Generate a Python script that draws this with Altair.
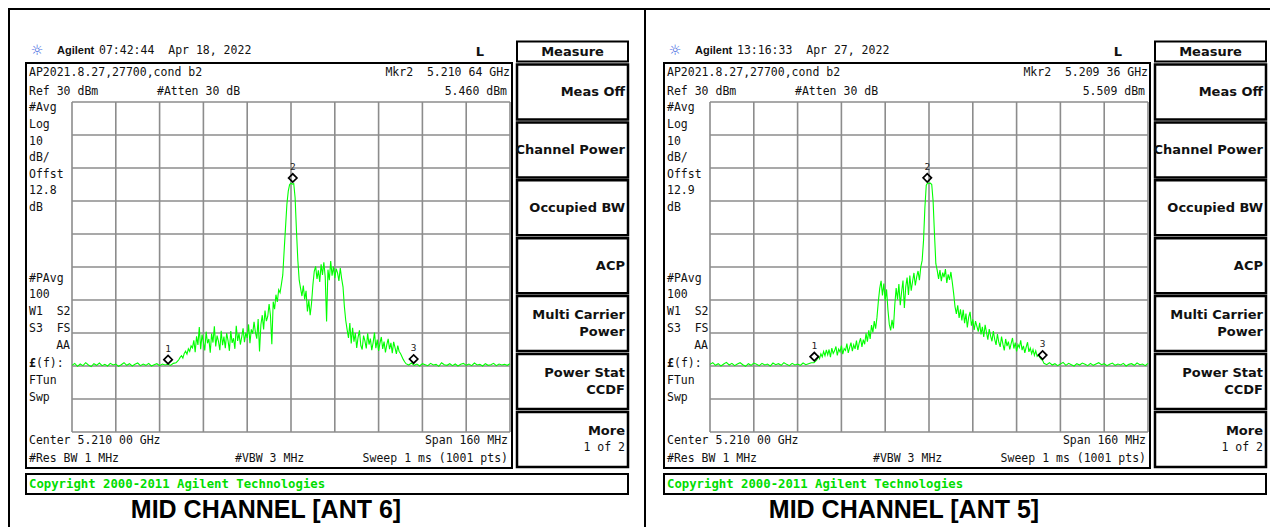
import altair as alt
import pandas as pd

# ---------------- data read from the two analyzer screens ----------------
# sweep grid: offset from centre 5.210 GHz (MHz), 160 MHz span
FREQ_MHZ = list(range(-80, -42)) + [i / 2 for i in range(-84, 85)] + list(range(43, 81))

ANT6_FLOOR_LO = [
    -49.8, -49.2, -50.1, -49.4, -49.9, -49.0, -49.7, -50.2, -49.3, -49.8,
    -49.1, -49.9, -49.5, -50.0, -49.2, -49.7, -49.4, -50.1, -49.6, -49.0,
    -49.8, -49.3, -50.0, -49.5, -49.1, -49.9, -49.4, -49.8, -49.2, -50.0,
    -49.6, -49.3, -49.9, -49.4, -49.7, -49.5, -49.8, -49.2,
]
ANT6_SIGNAL = [
    -49.0, -48.6, -48.1, -47.4, -46.9, -47.6, -46.2, -45.5, -46.4, -44.8,
    -45.6, -43.9, -44.5, -42.2, -45.8, -41.0, -43.6, -38.2, -44.9, -40.5,
    -42.7, -45.3, -39.6, -43.1, -41.8, -46.0, -40.2, -42.9, -38.0, -44.1,
    -40.8, -42.5, -45.2, -39.3, -43.7, -41.1, -44.6, -40.0, -42.3, -45.4,
    -39.4, -43.0, -41.6, -44.8, -37.8, -42.4, -40.1, -43.5, -41.2, -38.6,
    -42.8, -39.9, -41.5, -37.4, -43.1, -38.9, -40.2, -36.6, -39.8, -41.7,
    -35.8, -45.6, -37.5, -34.6, -38.9, -33.2, -36.4, -35.0, -31.2, -34.7,
    -43.4, -30.5, -32.8, -28.4, -30.6, -26.9, -27.8, -25.2, -22.4, -15.0,
    -8.0, -1.0, 3.0, 5.0, 5.4, 5.1, 5.3, 1.0, -9.0, -18.0,
    -24.0, -26.5, -28.8, -25.6, -29.8, -27.2, -33.5, -30.1, -34.6, -31.0,
    -25.4, -21.3, -19.8, -23.6, -21.0, -24.5, -19.2, -22.4, -18.6, -23.0,
    -36.5, -20.8, -24.0, -18.2, -22.6, -19.9, -23.4, -20.5, -21.8, -24.2,
    -20.3, -23.5, -26.0, -32.0, -36.2, -39.0, -41.5, -37.0, -43.2, -38.4,
    -42.6, -40.0, -44.5, -41.3, -39.2, -43.8, -45.0, -40.8, -42.4, -44.7,
    -40.1, -43.5, -41.7, -45.2, -42.9, -39.9, -44.6, -42.0, -45.4, -43.1,
    -41.2, -44.8, -42.6, -45.9, -43.5, -41.8, -44.9, -43.0, -46.1, -42.7,
    -44.4, -46.3, -43.8, -45.6, -46.2, -47.1, -48.0, -48.7, -49.3,
]
ANT6_FLOOR_HI = [
    -49.7, -49.1, -49.8, -49.4, -50.0, -49.3, -49.6, -49.9, -49.2, -49.7,
    -49.5, -50.1, -49.0, -49.6, -49.8, -49.3, -49.9, -49.4, -50.0, -49.5,
    -49.2, -49.8, -49.4, -49.9, -49.1, -49.7, -49.5, -50.0, -49.3, -49.8,
    -49.6, -49.2, -49.9, -49.4, -49.7, -49.5, -49.8, -49.3,
]

ANT5_FLOOR_LO = [
    -49.5, -49.0, -49.8, -49.3, -50.0, -49.4, -48.9, -49.7, -49.2, -49.9,
    -49.4, -49.0, -49.6, -50.1, -49.3, -49.8, -49.1, -49.5, -49.9, -49.2,
    -49.7, -49.4, -50.0, -49.1, -49.6, -49.3, -49.8, -49.0, -49.5, -49.9,
    -49.2, -49.7, -49.4, -49.8, -49.1, -49.6, -49.3, -49.0,
]
ANT5_SIGNAL = [
    -49.0, -48.6, -48.2, -47.0, -47.8, -46.3, -47.2, -45.6, -46.9, -45.1,
    -46.6, -45.0, -47.3, -44.6, -46.2, -45.4, -44.1, -46.8, -44.9, -45.7,
    -43.8, -46.4, -44.7, -45.3, -43.2, -46.0, -44.4, -42.9, -45.5, -43.6,
    -44.8, -42.3, -45.1, -43.0, -41.6, -44.2, -42.0, -43.4, -40.1, -42.6,
    -39.2, -41.8, -37.6, -39.8, -36.4, -38.7, -35.2, -30.4, -26.5, -24.2,
    -28.6, -25.0, -30.2, -26.8, -33.0, -37.4, -39.2, -36.0, -38.6, -31.5,
    -26.4, -29.8, -25.2, -31.6, -27.5, -24.1, -32.4, -26.0, -23.2, -28.5,
    -22.6, -27.2, -24.4, -21.8, -25.6, -23.0, -21.2, -24.0, -20.0, -18.0,
    -12.0, -2.0, 4.8, 5.5, 5.3, 5.4, 5.0, 0.0, -10.0, -19.0,
    -21.0, -23.6, -20.9, -24.3, -21.7, -23.1, -20.6, -24.8, -22.2, -23.9,
    -21.5, -24.6, -28.0, -32.0, -34.2, -31.6, -35.4, -32.8, -36.2, -33.0,
    -37.0, -34.1, -38.3, -35.2, -33.6, -37.8, -35.9, -39.1, -36.4, -38.0,
    -39.6, -36.9, -40.4, -38.1, -41.2, -37.5, -39.8, -42.0, -38.8, -40.9,
    -42.5, -39.4, -41.9, -43.6, -40.3, -42.8, -44.2, -41.1, -43.4, -45.3,
    -41.8, -44.0, -42.6, -45.0, -43.2, -41.5, -44.7, -42.9, -45.6, -43.5,
    -44.4, -42.2, -45.2, -43.9, -46.0, -44.3, -42.8, -45.7, -44.6, -46.3,
    -45.0, -46.8, -45.4, -47.1, -46.6, -47.4, -48.0, -48.3, -49.2,
]
ANT5_FLOOR_HI = [
    -49.6, -49.0, -49.7, -49.3, -49.9, -49.4, -48.9, -49.8, -49.2, -49.6,
    -50.0, -49.3, -49.7, -49.1, -49.5, -49.9, -49.2, -49.8, -49.4, -49.0,
    -49.6, -49.3, -49.9, -49.5, -49.1, -49.8, -49.4, -49.7, -49.2, -50.0,
    -49.5, -49.3, -49.8, -49.1, -49.6, -49.4, -49.9, -49.2,
]

ANT6_DBM = ANT6_FLOOR_LO + ANT6_SIGNAL + ANT6_FLOOR_HI
ANT5_DBM = ANT5_FLOOR_LO + ANT5_SIGNAL + ANT5_FLOOR_HI

GRID_FREQ_MHZ = [-80, -64, -48, -32, -16, 0, 16, 32, 48, 64, 80]
GRID_DBM = [30, 20, 10, 0, -10, -20, -30, -40, -50, -60, -70]

ANT6_MKR_MHZ = [-44.9, 0.64, 44.8]
ANT6_MKR_DBM = [-49.6, 5.46, -49.4]
ANT5_MKR_MHZ = [-41.9, -0.64, 41.5]
ANT5_MKR_DBM = [-48.7, 5.509, -48.2]
MKR_NAMES = ["1", "2", "3"]

SOFTKEYS = [["Meas Off"], ["Channel Power"], ["Occupied BW"], ["ACP"],
            ["Multi Carrier", "Power"], ["Power Stat", "CCDF"], ["More", "1 of 2"]]

NB = "\u00a0"

# ---------------- drawing helpers ----------------
OX, OY = 8, 8
MONO = "DejaVu Sans Mono"
SANS = "DejaVu Sans"
ONE = pd.DataFrame({"k": [0]})
GRIDC = "#8c8c8c"


def txt(s, x, y, size=11.5, font=MONO, weight="normal", align="left",
        color="#111111", baseline="middle"):
    return alt.Chart(ONE).mark_text(
        text=s, fontSize=size, font=font, fontWeight=weight, align=align,
        baseline=baseline, color=color
    ).encode(x=alt.value(x - OX), y=alt.value(y - OY))


def box(x1, y1, x2, y2, sw=2.0, color="black"):
    return alt.Chart(ONE).mark_rect(filled=False, color=color, strokeWidth=sw).encode(
        x=alt.value(x1 - OX), x2=alt.value(x2 - OX),
        y=alt.value(y1 - OY), y2=alt.value(y2 - OY))


def hrule(x1, x2, y, sw=2.0):
    return alt.Chart(ONE).mark_rule(color="black", strokeWidth=sw).encode(
        x=alt.value(x1 - OX), x2=alt.value(x2 - OX), y=alt.value(y - OY))


def vrule(x, y1, y2, sw=2.0):
    return alt.Chart(ONE).mark_rule(color="black", strokeWidth=sw).encode(
        x=alt.value(x - OX), y=alt.value(y1 - OY), y2=alt.value(y2 - OY))


def panel(dx, time_str, mkr_str, mval_str, offst, caption, vals, mf, mp):
    X = lambda x: x + dx
    L = []
    # header line
    L.append(txt("☼", X(37), 51, size=14, font=SANS, color="#3a5fe0", align="center"))
    L.append(txt("Agilent", X(57), 51, size=11, font="Liberation Sans", weight="bold"))
    L.append(txt(time_str, X(99), 51))
    L.append(txt("L", X(480), 51.5, size=13, font=SANS, weight="bold", align="center"))
    L.append(box(X(517), 41.5, X(628), 61.5))
    L.append(txt("Measure", X(572.5), 51.5, size=13, font=SANS, weight="bold", align="center"))

    # main display box
    L.append(box(X(26), 63, X(512), 468))
    L.append(txt("AP2021.8.27,27700,cond b2", X(29), 73))
    L.append(txt(mkr_str, X(510), 73, align="right"))
    L.append(txt("Ref 30 dBm", X(29), 91.5))
    L.append(txt("#Atten 30 dB", X(157), 91.5))
    L.append(txt(mval_str, X(507), 91.5, align="right"))
    for s, y in [("#Avg", 107.5), ("Log", 124.5), ("10", 141.5), ("dB/", 158),
                 ("Offst", 175), (offst, 191), ("dB", 207.5), ("#PAvg", 278.5),
                 ("100", 295), ("W1" + NB + NB + "S2", 312), ("S3" + NB + NB + "FS", 329),
                 ("FTun", 380.5), ("Swp", 398)]:
        L.append(txt(s, X(29), y))
    L.append(txt("AA", X(70), 346, align="right"))
    L.append(txt("£", X(29), 363.5, weight="bold"))
    L.append(txt("(f):", X(36), 363.5))
    L.append(txt("Center 5.210 00 GHz", X(29), 441))
    L.append(txt("Span 160 MHz", X(508), 441, align="right"))
    L.append(txt("#Res BW 1 MHz", X(29), 459))
    L.append(txt("#VBW 3 MHz", X(235), 459))
    L.append(txt("Sweep 1 ms (1001 pts)", X(508), 459, align="right"))

    # softkeys
    for i, lines in enumerate(SOFTKEYS):
        top = 64.5 + 57.9 * i
        L.append(box(X(517), top, X(628), top + 55, sw=2.5))
        c = top + 27.5
        if len(lines) == 1:
            L.append(txt(lines[0], X(625), c, size=13, font=SANS, weight="bold", align="right"))
        else:
            L.append(txt(lines[0], X(625), c - 8.5, size=13, font=SANS, weight="bold", align="right"))
            if lines[1] == "1 of 2":
                L.append(txt(lines[1], X(625), c + 8.5, align="right"))
            else:
                L.append(txt(lines[1], X(625), c + 8.5, size=13, font=SANS, weight="bold", align="right"))

    # copyright bar
    L.append(box(X(26), 474, X(628), 494))
    L.append(txt("Copyright 2000-2011 Agilent Technologies", X(29), 484, size=12.3,
                 weight="bold", color="#00dd00"))
    # caption
    L.append(txt(caption, X(266), 518, size=25, font="Liberation Sans", weight="bold",
                 align="center", color="black", baseline="alphabetic"))

    # graticule + trace through scales
    sx = lambda: alt.Scale(domain=[-80, 80], range=[X(72) - OX, X(510) - OX], nice=False, zero=False)
    sy = lambda: alt.Scale(domain=[-70, 30], range=[432 - OY, 102 - OY], nice=False, zero=False)

    vg = pd.DataFrame({"f": GRID_FREQ_MHZ, "lo": [GRID_DBM[-1]] * len(GRID_FREQ_MHZ),
                       "hi": [GRID_DBM[0]] * len(GRID_FREQ_MHZ)})
    L.append(alt.Chart(vg).mark_rule(color=GRIDC, strokeWidth=1.6).encode(
        x=alt.X("f:Q", scale=sx(), axis=None),
        y=alt.Y("lo:Q", scale=sy(), axis=None), y2="hi:Q"))
    hg = pd.DataFrame({"p": GRID_DBM, "lo": [GRID_FREQ_MHZ[0]] * len(GRID_DBM),
                       "hi": [GRID_FREQ_MHZ[-1]] * len(GRID_DBM)})
    L.append(alt.Chart(hg).mark_rule(color=GRIDC, strokeWidth=1.6).encode(
        y=alt.Y("p:Q", scale=sy(), axis=None),
        x=alt.X("lo:Q", scale=sx(), axis=None), x2="hi:Q"))

    tr = pd.DataFrame({"f": FREQ_MHZ, "p": vals})
    L.append(alt.Chart(tr).mark_line(color="#00ff00", strokeWidth=1.1).encode(
        x=alt.X("f:Q", scale=sx(), axis=None),
        y=alt.Y("p:Q", scale=sy(), axis=None),
        order="f:Q"))

    mk = pd.DataFrame({"f": mf, "p": mp, "n": MKR_NAMES})
    L.append(alt.Chart(mk).mark_point(shape="diamond", filled=False, color="black", size=70,
                                      strokeWidth=1.7, opacity=1, yOffset=-5).encode(
        x=alt.X("f:Q", scale=sx(), axis=None),
        y=alt.Y("p:Q", scale=sy(), axis=None)))
    L.append(alt.Chart(mk).mark_text(fontSize=9.5, font=MONO, color="#222222", yOffset=-16).encode(
        x=alt.X("f:Q", scale=sx(), axis=None),
        y=alt.Y("p:Q", scale=sy(), axis=None),
        text="n:N"))
    return L


layers = []
# outer document frame
layers.append(hrule(8, 1270, 9, sw=2))
layers.append(vrule(9, 8, 527, sw=2))
layers.append(vrule(645, 8, 527, sw=2))

layers += panel(0, "07:42:44" + NB + NB + "Apr 18, 2022", "Mkr2" + NB + NB + "5.210 64 GHz",
                "5.460 dBm", "12.8", "MID CHANNEL [ANT 6]", ANT6_DBM, ANT6_MKR_MHZ, ANT6_MKR_DBM)
layers += panel(638, "13:16:33" + NB + NB + "Apr 27, 2022", "Mkr2" + NB + NB + "5.209 36 GHz",
                "5.509 dBm", "12.9", "MID CHANNEL [ANT 5]", ANT5_DBM, ANT5_MKR_MHZ, ANT5_MKR_DBM)

chart = alt.layer(*layers).resolve_scale(x="independent", y="independent").properties(
    width=1262, height=519, padding=0,
    autosize=alt.AutoSizeParams(type="none"),
    background="white",
).configure_view(strokeWidth=0)

chart.save("out.html", embed_options={"renderer": "svg", "actions": False})
